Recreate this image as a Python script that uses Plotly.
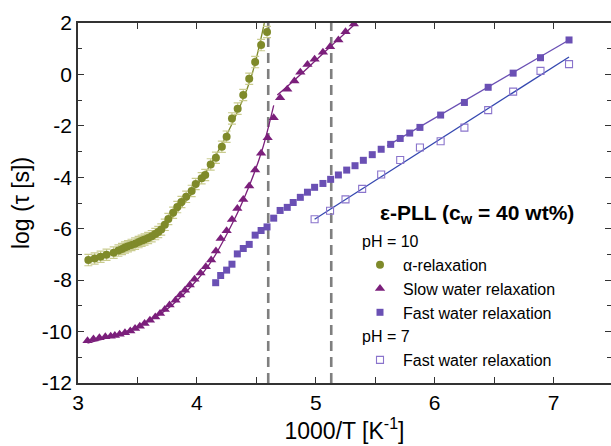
import plotly.graph_objects as go

# ---------------- data ----------------
alpha_x = [3.087, 3.14, 3.19, 3.24, 3.30, 3.34, 3.37, 3.395, 3.42, 3.45, 3.48, 3.51, 3.535,
           3.56, 3.59, 3.62, 3.65, 3.675, 3.70, 3.73, 3.76, 3.80, 3.835, 3.87, 3.91, 3.956,
           3.99, 4.04, 4.07, 4.116, 4.16, 4.21, 4.25, 4.295, 4.343, 4.39, 4.44, 4.49, 4.54, 4.59]
alpha_y = [-7.22, -7.16, -7.09, -7.01, -6.93, -6.85, -6.79, -6.73, -6.68, -6.63, -6.58, -6.52, -6.47,
           -6.42, -6.36, -6.29, -6.21, -6.13, -6.03, -5.85, -5.62, -5.38, -5.16, -4.96, -4.76, -4.53,
           -4.26, -4.04, -3.91, -3.50, -3.24, -2.81, -2.42, -1.71, -1.33, -0.80, -0.17, 0.48, 1.14, 1.65]
alpha_err = 0.22

slow_x = [3.08, 3.13, 3.18, 3.23, 3.275, 3.31, 3.35, 3.395, 3.44, 3.48, 3.52, 3.56, 3.605, 3.65,
          3.69, 3.73, 3.77, 3.82, 3.86, 3.90, 3.94, 3.98, 4.03, 4.075, 4.12, 4.16, 4.20, 4.25,
          4.295, 4.34, 4.39, 4.44, 4.49, 4.54, 4.595, 4.646, 4.70, 4.76, 4.82, 4.87, 4.93, 4.99,
          5.06, 5.12, 5.19, 5.25, 5.32]
slow_y = [-10.36, -10.29, -10.24, -10.20, -10.18, -10.15, -10.10, -10.05, -9.98, -9.88, -9.79, -9.69,
          -9.56, -9.43, -9.30, -9.14, -8.97, -8.78, -8.58, -8.39, -8.19, -7.97, -7.72, -7.48, -7.22,
          -6.87, -6.38, -6.08, -5.64, -5.21, -4.86, -4.34, -3.72, -3.07, -2.46, -1.68, -0.91, -0.58,
          -0.26, 0.08, 0.39, 0.59, 0.86, 1.08, 1.34, 1.66, 1.96]

fast10_x = [4.158, 4.20, 4.25, 4.295, 4.34, 4.39, 4.44, 4.49, 4.54, 4.59, 4.646, 4.70, 4.76, 4.81,
            4.87, 4.93, 4.99, 5.06, 5.125, 5.19, 5.26, 5.33, 5.40, 5.475, 5.55, 5.63, 5.71, 5.79,
            5.876, 6.05, 6.25, 6.45, 6.66, 6.89, 7.13]
fast10_y = [-8.10, -7.82, -7.61, -7.38, -6.98, -6.77, -6.61, -6.25, -6.07, -5.93, -5.59, -5.29, -5.17,
            -4.98, -4.78, -4.58, -4.39, -4.24, -4.08, -3.91, -3.72, -3.55, -3.34, -3.12, -2.91, -2.72,
            -2.49, -2.28, -2.06, -1.58, -1.09, -0.50, 0.05, 0.65, 1.34]

fast7_x = [4.99, 5.12, 5.25, 5.39, 5.55, 5.71, 5.876, 6.05, 6.25, 6.45, 6.66, 6.89, 7.13]
fast7_y = [-5.63, -5.30, -4.86, -4.45, -3.89, -3.33, -2.84, -2.60, -2.07, -1.39, -0.67, 0.14, 0.40]

# fit curves
alpha_fit_x = [3.10, 3.30, 3.50, 3.70, 3.90, 4.10, 4.30, 4.45, 4.567]
alpha_fit_y = [-7.25, -6.95, -6.58, -5.98, -4.98, -3.62, -1.88, -0.20, 2.0]
slow_fit1_x = [3.08, 3.30, 3.50, 3.70, 3.90, 4.10, 4.30, 4.45, 4.55, 4.646]
slow_fit1_y = [-10.45, -10.17, -9.82, -9.30, -8.50, -7.42, -5.78, -4.22, -2.92, -1.20]
slow_fit2_x = [4.676, 4.80, 4.95, 5.10, 5.25, 5.34]
slow_fit2_y = [-0.80, -0.30, 0.33, 0.98, 1.62, 2.0]
fast10_fit_x = [5.60, 7.13]
fast10_fit_y = [-2.78, 1.34]
fast7_fit_x = [4.99, 7.13]
fast7_fit_y = [-5.63, 0.68]

vline_x = [4.6, 5.13]

x_ticks = [3, 4, 5, 6, 7]
y_ticks = [-12, -10, -8, -6, -4, -2, 0, 2]

# ---------------- colours ----------------
OLIVE = "#7f8a2a"
OLIVE_ERR = "#c9cb8e"
PURPLE = "#7b1f7b"
VIOLET = "#6a50b4"
VIOLET_OPEN = "#8a74cc"
BLUE = "#3548b0"
FONT = "Liberation Sans, Arial, sans-serif"

fig = go.Figure()

# fit lines (no legend)
fig.add_trace(go.Scatter(x=alpha_fit_x, y=alpha_fit_y, mode="lines", line=dict(color=OLIVE, width=1.3, shape="spline"),
                         showlegend=False, hoverinfo="skip"))
fig.add_trace(go.Scatter(x=slow_fit1_x, y=slow_fit1_y, mode="lines", line=dict(color=PURPLE, width=1.3, shape="spline"),
                         showlegend=False, hoverinfo="skip"))
fig.add_trace(go.Scatter(x=slow_fit2_x, y=slow_fit2_y, mode="lines", line=dict(color=PURPLE, width=1.3, shape="spline"),
                         showlegend=False, hoverinfo="skip"))
fig.add_trace(go.Scatter(x=fast10_fit_x, y=fast10_fit_y, mode="lines", line=dict(color=VIOLET, width=1.3),
                         showlegend=False, hoverinfo="skip"))
fig.add_trace(go.Scatter(x=fast7_fit_x, y=fast7_fit_y, mode="lines", line=dict(color=BLUE, width=1.3),
                         showlegend=False, hoverinfo="skip"))

# data
fig.add_trace(go.Scatter(x=alpha_x, y=alpha_y, mode="markers", name="α-relaxation",
                         legendgroup="ph10", legendgrouptitle=dict(text="pH = 10"),
                         marker=dict(symbol="circle", size=8, color=OLIVE),
                         error_y=dict(type="constant", value=alpha_err, color=OLIVE_ERR, thickness=1.2, width=4)))
fig.add_trace(go.Scatter(x=slow_x, y=slow_y, mode="markers", name="Slow water relaxation",
                         legendgroup="ph10",
                         marker=dict(symbol="triangle-up", size=9, color=PURPLE)))
fig.add_trace(go.Scatter(x=fast10_x, y=fast10_y, mode="markers", name="Fast water relaxation",
                         legendgroup="ph10",
                         marker=dict(symbol="square", size=7, color=VIOLET)))
fig.add_trace(go.Scatter(x=fast7_x, y=fast7_y, mode="markers", name="Fast water relaxation ",
                         legendgroup="ph7", legendgrouptitle=dict(text="pH = 7"),
                         marker=dict(symbol="square-open", size=7, color=VIOLET_OPEN, line=dict(width=1.1))))

for vx in vline_x:
    fig.add_shape(type="line", xref="x", yref="paper", x0=vx, x1=vx, y0=0, y1=1,
                  line=dict(color="#7f7f7f", width=2.6, dash="10px,6px"), layer="below")

fig.add_annotation(text="<b>ε-PLL (c<sub>w</sub> = 40 wt%)</b>", xref="paper", yref="paper",
                   x=(476.5 - 78) / 533, y=(383 - 214) / 360, xanchor="center", yanchor="middle",
                   showarrow=False, font=dict(family=FONT, size=21, color="black"))

axis_common = dict(showline=True, linecolor="#333333", linewidth=1.5, mirror="ticks",
                   ticks="inside", ticklen=6, tickwidth=1.3, tickcolor="#333333",
                   showgrid=False, zeroline=False, automargin=False,
                   tickfont=dict(family=FONT, size=21, color="black"))

fig.update_xaxes(range=[3, 7.483], tickvals=x_ticks, ticktext=[str(v) for v in x_ticks],
                 minor=dict(dtick=0.5, ticks="inside", ticklen=6, tickwidth=1.3, tickcolor="#333333"),
                 title=dict(text="1000/T [K<sup>-1</sup>]", font=dict(family=FONT, size=23, color="black"), standoff=4),
                 **axis_common)
fig.update_yaxes(range=[-12, 2], tickvals=y_ticks, ticktext=[str(v) for v in y_ticks],
                 minor=dict(dtick=1, ticks="inside", ticklen=4, tickwidth=1.3, tickcolor="#333333"),
                 title=dict(text="log (τ [s])", font=dict(family=FONT, size=23, color="black"), standoff=6),
                 **axis_common)

fig.update_layout(width=611, height=446, margin=dict(l=78, r=0, t=23, b=63),
                  plot_bgcolor="white", paper_bgcolor="white",
                  font=dict(family=FONT, color="black"),
                  legend=dict(x=(357 - 78) / 533, y=(383 - 224) / 360, xanchor="left", yanchor="top",
                              bgcolor="rgba(0,0,0,0)", font=dict(family=FONT, size=16, color="black"),
                              grouptitlefont=dict(family=FONT, size=16, color="black"),
                              tracegroupgap=0, itemsizing="trace", itemwidth=36))

fig.write_html("out.html", config={"displayModeBar": False},
               post_script="document.body.style.margin='0';")
